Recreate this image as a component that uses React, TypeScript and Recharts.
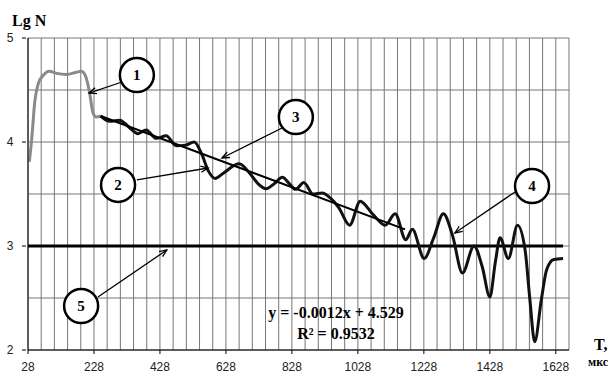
import React from 'react';
import {
  LineChart,
  Line,
  XAxis,
  YAxis,
  CartesianGrid,
  ReferenceLine,
  ReferenceDot,
} from 'recharts';

// curve 1 (grey) - start of the record
const grayT = [32, 39, 49, 59, 74, 92, 115, 145, 175, 190, 203, 215, 225, 235, 248];
const grayLgN = [3.81, 4.02, 4.4, 4.56, 4.64, 4.68, 4.66, 4.65, 4.67, 4.68, 4.63, 4.47, 4.28, 4.24, 4.25];

// curve 2 (black) - rest of the record
const curveT = [
  248, 276, 306, 335, 361, 386, 417, 447, 477, 505, 532, 555, 575, 595, 620, 668, 700, 725, 750, 775,
  799, 820, 839, 864, 892, 920, 945, 970, 1003, 1035, 1072, 1111, 1141, 1173, 1193, 1229, 1258, 1287,
  1315, 1345, 1380, 1405, 1428, 1445, 1459, 1484, 1512, 1535, 1549, 1564, 1584, 1600, 1622, 1650,
];
const curveLgN = [
  4.25, 4.2, 4.21, 4.14, 4.08, 4.115, 4.035, 4.06, 3.965, 3.97, 4.0, 3.88, 3.72, 3.65, 3.7, 3.79, 3.7,
  3.6, 3.55, 3.6, 3.66, 3.6, 3.545, 3.61, 3.5, 3.51, 3.46, 3.37, 3.2, 3.43, 3.31, 3.2, 3.31, 3.06, 3.16,
  2.88, 3.08, 3.31, 3.1, 2.74, 3.0, 2.8, 2.51, 2.85, 3.08, 2.88, 3.2, 2.96, 2.5, 2.08, 2.48, 2.77, 2.87,
  2.88,
];

// curve 3 - linear trend
const trendT = [248, 1171];
const trendLgN = [4.25, 3.16];

// line 5 - level
const levelLgN = 3;
const levelT = [28, 1650];

const xLabels = [28, 228, 428, 628, 828, 1028, 1228, 1428, 1628];
const xGrid = Array.from({ length: 42 }, (_, i) => 28 + 40 * i);
const yLabels = [2, 3, 4, 5];
const yGrid = [2, 2.5, 3, 3.5, 4, 4.5, 5];

// numbered callouts
const markNames = ['1', '2', '3', '4', '5'];
const markT = [358, 301, 840, 1556, 189];
const markLgN = [4.644, 3.587, 4.24, 3.577, 2.423];
const arrowFromT = [313, 358, 798, 1504, 240];
const arrowFromLgN = [4.577, 3.635, 4.135, 3.519, 2.51];
const arrowToT = [213, 574, 616, 1322, 449];
const arrowToLgN = [4.471, 3.75, 3.846, 3.125, 2.962];

const grayData = grayT.map((t, i) => ({ t, v: grayLgN[i] }));
const curveData = curveT.map((t, i) => ({ t, v: curveLgN[i] }));
const trendData = trendT.map((t, i) => ({ t, v: trendLgN[i] }));

const serif = '"Liberation Serif", "Times New Roman", serif';
const sans = '"Liberation Sans", Arial, sans-serif';

const XTick = (props: any) => {
  const { x, y, payload } = props;
  if (!xLabels.includes(payload.value)) return <g />;
  return (
    <g>
      <line x1={x} x2={x} y1={y - 2} y2={y + 2} stroke="#000" />
      <text x={x} y={y + 19} textAnchor="middle" fontSize={12} fontFamily={sans} fill="#222">
        {payload.value}
      </text>
    </g>
  );
};

const YTick = (props: any) => {
  const { x, y, payload } = props;
  if (!yLabels.includes(payload.value)) return <g />;
  return (
    <g>
      <line x1={x - 4} x2={x} y1={y} y2={y} stroke="#000" />
      <text x={x - 16} y={y + 4} textAnchor="middle" fontSize={12} fontFamily={sans} fill="#222">
        {payload.value}
      </text>
    </g>
  );
};

const Arrow = (p: any) => {
  const { x1, y1, x2, y2 } = p;
  const a = Math.atan2(y2 - y1, x2 - x1);
  const len = 8;
  const w = 0.4;
  const ax = x2 - len * Math.cos(a - w);
  const ay = y2 - len * Math.sin(a - w);
  const bx = x2 - len * Math.cos(a + w);
  const by = y2 - len * Math.sin(a + w);
  return (
    <g>
      <line x1={x1} y1={y1} x2={x2} y2={y2} stroke="#000" strokeWidth={1.3} />
      <polyline points={`${ax},${ay} ${x2},${y2} ${bx},${by}`} fill="none" stroke="#000" strokeWidth={1.3} />
    </g>
  );
};

const Callout = (name: string) => (p: any) => (
  <g>
    <ellipse cx={p.cx} cy={p.cy} rx={17} ry={17} fill="#fff" stroke="#000" strokeWidth={2.5} />
    <text x={p.cx} y={p.cy + 5} textAnchor="middle" fontSize={15} fontWeight="bold" fontFamily={serif}>
      {name}
    </text>
  </g>
);

export default function App() {
  return (
    <div style={{ position: 'absolute', left: 0, top: 0, width: 614, height: 374, background: '#fff' }}>
      <LineChart width={614} height={374} margin={{ top: 38, right: 45, bottom: 0, left: 0 }}>
        <CartesianGrid stroke="#777" strokeWidth={1} />
        <XAxis
          dataKey="t"
          type="number"
          domain={[28, 1668]}
          ticks={xGrid}
          interval={0}
          allowDuplicatedCategory={false}
          tick={<XTick />}
          tickLine={false}
          tickSize={0}
          height={24}
          axisLine={{ stroke: '#000' }}
        />
        <YAxis
          type="number"
          domain={[2, 5]}
          ticks={yGrid}
          interval={0}
          tick={<YTick />}
          tickLine={false}
          tickSize={0}
          width={28}
          axisLine={{ stroke: '#000' }}
        />
        <ReferenceLine
          segment={[
            { x: levelT[0], y: levelLgN },
            { x: levelT[1], y: levelLgN },
          ]}
          stroke="#000"
          strokeWidth={3}
        />
        <Line
          data={grayData}
          dataKey="v"
          type="monotone"
          stroke="#8a8a8a"
          strokeWidth={3}
          dot={false}
          isAnimationActive={false}
        />
        <Line
          data={curveData}
          dataKey="v"
          type="monotone"
          stroke="#111"
          strokeWidth={3}
          dot={false}
          isAnimationActive={false}
        />
        <Line
          data={trendData}
          dataKey="v"
          type="linear"
          stroke="#000"
          strokeWidth={2}
          dot={false}
          isAnimationActive={false}
        />
        {markNames.map((n, i) => (
          <ReferenceLine
            key={'a' + n}
            segment={[
              { x: arrowFromT[i], y: arrowFromLgN[i] },
              { x: arrowToT[i], y: arrowToLgN[i] },
            ]}
            shape={Arrow}
          />
        ))}
        {markNames.map((n, i) => (
          <ReferenceDot key={'m' + n} x={markT[i]} y={markLgN[i]} r={17} shape={Callout(n)} />
        ))}
      </LineChart>
      <svg
        width={614}
        height={374}
        style={{ position: 'absolute', left: 0, top: 0, pointerEvents: 'none' }}
      >
        <text x={12} y={26} fontSize={16} fontWeight="bold" fontFamily={serif}>
          Lg N
        </text>
        <text x={594} y={350} fontSize={16} fontWeight="bold" fontFamily={serif}>
          T,
        </text>
        <text x={588} y={366} fontSize={12} fontWeight="bold" fontFamily={serif}>
          мкс
        </text>
        <text x={336} y={318} textAnchor="middle" fontSize={16} fontWeight="bold" fontFamily={serif}>
          y = -0.0012x + 4.529
        </text>
        <text x={336} y={339} textAnchor="middle" fontSize={16} fontWeight="bold" fontFamily={serif}>
          R² = 0.9532
        </text>
      </svg>
    </div>
  );
}
